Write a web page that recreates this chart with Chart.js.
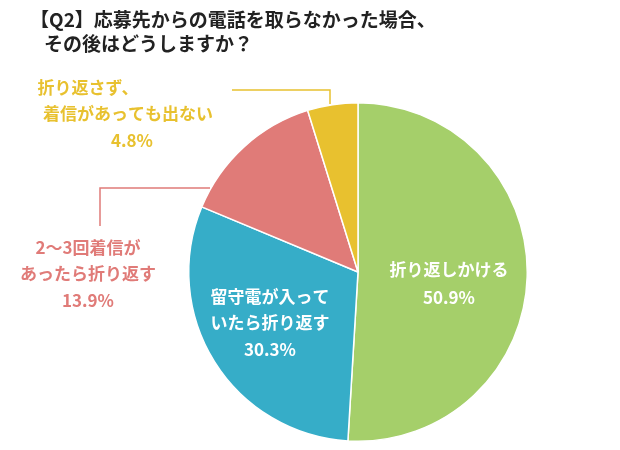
<!DOCTYPE html>
<html><head><meta charset="utf-8">
<script src="https://cdn.jsdelivr.net/npm/chart.js"></script>
<style>html,body{margin:0;background:#fff}#wrap{width:620px;height:450px}</style>
</head><body><div id="wrap"><canvas id="c"></canvas></div>
<script>
const categories = ['折り返しかける', '留守電が入っていたら折り返す', '2〜3回着信があったら折り返す', '折り返さず、着信があっても出ない'];
const values = [50.9, 30.3, 13.9, 4.8];
const colors = ['#a5cf6a', '#36adc8', '#e07b78', '#e8c12f'];

const FONT = '"Noto Sans CJK JP", sans-serif';

// labels and leader lines
const labelPlugin = {
  id: 'labels',
  afterDraw(chart) {
    const c = chart.ctx;
    c.save();
    c.fillStyle = '#222';
    c.font = 'bold 19px ' + FONT;
    c.textAlign = 'left';
    c.textBaseline = 'middle';
    c.fillText('【Q2】応募先からの電話を取らなかった場合、', 30, 20);
    c.fillText('その後はどうしますか？', 44, 44);

    c.textAlign = 'center';
    c.font = 'bold 17px ' + FONT;
    c.fillStyle = '#fff';
    c.fillText(categories[0], 449, 270);
    c.fillText(values[0].toFixed(1) + '%', 449, 298);
    c.fillText('留守電が入って', 270, 297);
    c.fillText('いたら折り返す', 270, 323);
    c.fillText(values[1].toFixed(1) + '%', 270, 350);

    c.fillStyle = colors[2];
    c.fillText('2〜3回着信が', 88, 248);
    c.fillText('あったら折り返す', 88, 274);
    c.fillText(values[2].toFixed(1) + '%', 88, 301);

    c.fillStyle = colors[3];
    c.fillText('折り返さず、', 88, 88);
    c.fillText('着信があっても出ない', 128, 114);
    c.fillText(values[3].toFixed(1) + '%', 132, 141);

    c.lineWidth = 1.5;
    c.strokeStyle = colors[3];
    c.beginPath(); c.moveTo(232, 90); c.lineTo(330, 90); c.lineTo(330, 104); c.stroke();
    c.strokeStyle = colors[2];
    c.beginPath(); c.moveTo(100, 226); c.lineTo(100, 188); c.lineTo(210, 188); c.stroke();
    c.restore();
  }
};

new Chart(document.getElementById('c'), {
  type: 'pie',
  data: {
    labels: categories,
    datasets: [{ data: values, backgroundColor: colors, borderColor: '#fff', borderWidth: 1.5 }]
  },
  options: {
    responsive: true,
    maintainAspectRatio: false,
    animation: false,
    layout: { padding: { left: 188, right: 92, top: 102, bottom: 8 } },
    plugins: { legend: { display: false }, tooltip: { enabled: false } }
  },
  plugins: [labelPlugin]
});
</script></body></html>
